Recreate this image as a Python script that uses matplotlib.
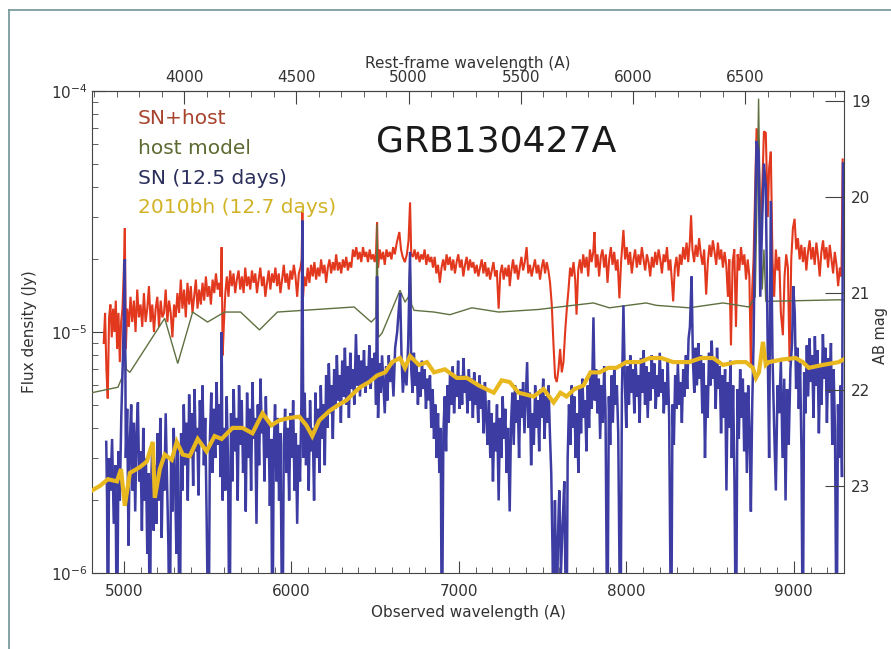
import numpy as np
import matplotlib
matplotlib.use("Agg")
import matplotlib.pyplot as plt
import matplotlib.ticker as ticker
from matplotlib.lines import Line2D

plt.rcParams['font.family'] = ['DejaVu Sans']

# redshift of GRB130427A, used for the rest-frame axis
z = 0.34

# spectra: (observed wavelength in A, flux density in micro-Jy)
sn_host = [
    (4880, 9.0), (4888, 12.0), (4896, 7.0), (4904, 5.3), (4912, 11.5), (4920, 13.0), (4928, 9.5), (4936, 12.5),
    (4944, 10.0), (4952, 13.5), (4960, 8.5), (4968, 12.0), (4976, 7.5), (4984, 11.0), (4992, 12.5), (5000, 18.0),
    (5006, 27.0), (5012, 8.5), (5020, 12.5), (5030, 10.5), (5040, 14.0), (5050, 11.0), (5060, 13.5), (5070, 10.0),
    (5080, 15.0), (5090, 11.5), (5100, 13.0), (5110, 10.5), (5120, 14.5), (5130, 11.0), (5140, 12.5), (5150, 15.5),
    (5160, 11.0), (5170, 13.0), (5180, 10.0), (5190, 12.5), (5200, 14.0), (5210, 10.5), (5220, 13.5), (5230, 11.5),
    (5240, 12.0), (5250, 15.0), (5260, 11.0), (5270, 13.5), (5280, 12.0), (5290, 9.5), (5300, 13.0), (5310, 11.5),
    (5320, 14.5), (5330, 12.0), (5340, 16.5), (5350, 12.5), (5360, 15.0), (5370, 11.5), (5380, 16.0), (5390, 13.0),
    (5400, 15.5), (5410, 12.0), (5420, 14.0), (5430, 16.5), (5440, 12.5), (5450, 15.0), (5460, 13.0), (5470, 16.0),
    (5480, 13.5), (5490, 17.0), (5500, 14.0), (5510, 15.5), (5520, 13.0), (5530, 16.5), (5540, 14.5), (5550, 17.5),
    (5560, 15.0), (5570, 16.0), (5578, 14.0), (5584, 22.5), (5590, 8.0), (5598, 11.0), (5606, 14.5), (5615, 17.0),
    (5625, 14.0), (5635, 18.0), (5645, 15.5), (5655, 17.5), (5665, 14.5), (5675, 16.5), (5685, 18.0), (5695, 15.0),
    (5705, 17.0), (5715, 14.5), (5725, 18.5), (5735, 15.5), (5745, 17.0), (5755, 15.0), (5765, 18.0), (5775, 16.0),
    (5785, 17.5), (5795, 14.5), (5805, 16.5), (5815, 18.5), (5825, 15.5), (5835, 17.0), (5845, 14.0), (5855, 16.0),
    (5865, 18.0), (5875, 15.0), (5885, 17.5), (5895, 16.0), (5905, 18.5), (5915, 15.5), (5925, 17.5), (5935, 14.5),
    (5945, 16.5), (5955, 19.0), (5965, 16.0), (5975, 17.5), (5985, 15.0), (5995, 18.0), (6005, 16.5), (6015, 19.0),
    (6025, 17.0), (6035, 14.0), (6045, 17.5), (6055, 18.5), (6062, 20.0), (6066, 31.5), (6070, 14.0), (6078, 17.0),
    (6088, 15.5), (6098, 18.5), (6108, 16.0), (6118, 19.0), (6128, 17.0), (6138, 19.5), (6148, 16.5), (6158, 18.5),
    (6168, 17.0), (6178, 20.0), (6188, 17.5), (6198, 19.0), (6208, 16.0), (6218, 18.5), (6228, 20.0), (6238, 17.5),
    (6248, 19.5), (6258, 18.0), (6268, 21.0), (6278, 18.0), (6288, 19.5), (6298, 17.5), (6308, 20.0), (6318, 18.5),
    (6328, 20.5), (6338, 18.0), (6348, 19.5), (6358, 18.5), (6368, 22.0), (6378, 20.5), (6388, 22.5), (6398, 20.0),
    (6408, 21.5), (6418, 19.5), (6428, 22.5), (6438, 20.5), (6448, 21.5), (6458, 19.5), (6468, 22.0), (6478, 20.0),
    (6488, 21.0), (6498, 19.5), (6506, 21.5), (6512, 28.5), (6518, 18.5), (6528, 22.0), (6538, 20.0), (6548, 21.5),
    (6558, 19.0), (6568, 22.0), (6578, 20.5), (6588, 21.5), (6598, 20.0), (6608, 22.5), (6618, 21.0), (6630, 23.5),
    (6645, 26.0), (6655, 22.0), (6665, 20.5), (6678, 19.5), (6690, 21.0), (6700, 24.0), (6709, 34.5), (6716, 21.0),
    (6726, 20.5), (6736, 22.0), (6746, 20.0), (6756, 21.5), (6766, 19.5), (6776, 21.0), (6786, 20.0), (6796, 22.0),
    (6806, 19.0), (6816, 21.0), (6826, 19.5), (6836, 20.5), (6846, 18.5), (6856, 20.5), (6866, 17.5), (6876, 19.0),
    (6887, 16.0), (6897, 18.5), (6907, 20.0), (6917, 18.0), (6927, 21.0), (6937, 19.0), (6947, 20.5), (6957, 18.0),
    (6967, 20.0), (6977, 17.5), (6987, 19.5), (6997, 21.0), (7007, 18.5), (7017, 20.0), (7027, 17.0), (7037, 19.0),
    (7047, 20.5), (7057, 18.0), (7067, 20.0), (7077, 18.5), (7087, 19.5), (7097, 17.5), (7107, 19.0), (7117, 17.0),
    (7127, 18.5), (7137, 20.0), (7147, 17.5), (7157, 19.5), (7167, 17.0), (7177, 18.5), (7187, 16.5), (7197, 18.0),
    (7207, 19.5), (7217, 17.0), (7227, 18.0), (7238, 12.5), (7248, 17.5), (7258, 19.0), (7268, 16.5), (7278, 18.5),
    (7288, 17.0), (7298, 19.0), (7304, 15.5), (7314, 18.0), (7324, 20.0), (7334, 17.5), (7344, 19.0), (7354, 16.5),
    (7364, 18.5), (7374, 20.5), (7384, 18.0), (7394, 19.5), (7405, 22.5), (7415, 17.5), (7425, 19.0), (7435, 17.0),
    (7445, 18.5), (7455, 20.0), (7465, 17.5), (7475, 19.0), (7485, 16.5), (7495, 18.5), (7505, 20.0), (7515, 17.5),
    (7525, 19.5), (7535, 18.0), (7545, 16.0), (7555, 13.0), (7565, 9.0), (7575, 6.5), (7585, 6.2), (7595, 7.0),
    (7605, 8.5), (7615, 6.8), (7625, 7.5), (7635, 10.0), (7645, 12.5), (7655, 15.0), (7665, 18.5), (7675, 17.0),
    (7685, 19.5), (7695, 16.5), (7703, 11.8), (7713, 18.0), (7723, 20.0), (7733, 17.5), (7743, 21.0), (7753, 18.5),
    (7763, 20.5), (7773, 17.0), (7783, 22.0), (7793, 19.5), (7803, 21.5), (7810, 26.0), (7818, 18.5), (7828, 21.0),
    (7838, 17.0), (7848, 20.5), (7858, 22.0), (7868, 18.5), (7878, 21.0), (7888, 16.0), (7898, 20.0), (7908, 22.5),
    (7918, 19.0), (7928, 21.5), (7938, 18.0), (7948, 20.0), (7959, 13.8), (7969, 19.5), (7983, 26.5), (7993, 20.0),
    (8003, 22.5), (8013, 19.0), (8023, 21.5), (8033, 17.5), (8043, 20.0), (8053, 22.0), (8063, 18.5), (8073, 21.0),
    (8083, 19.0), (8093, 22.5), (8103, 20.0), (8113, 18.0), (8123, 21.0), (8133, 19.5), (8143, 17.0), (8153, 20.5),
    (8163, 18.5), (8173, 21.5), (8183, 19.0), (8193, 22.0), (8203, 20.0), (8213, 17.5), (8223, 21.0), (8233, 19.5),
    (8243, 22.5), (8253, 18.0), (8263, 20.0), (8273, 16.0), (8280, 13.4), (8290, 18.5), (8300, 20.5), (8310, 17.0),
    (8320, 21.0), (8330, 19.0), (8340, 22.5), (8350, 20.0), (8360, 23.5), (8370, 19.5), (8380, 24.0), (8387, 30.5),
    (8395, 22.0), (8405, 19.5), (8415, 23.0), (8425, 20.5), (8435, 24.5), (8445, 21.0), (8455, 19.0), (8465, 22.0),
    (8477, 14.3), (8487, 19.5), (8497, 23.0), (8507, 20.5), (8517, 24.0), (8527, 21.5), (8537, 19.0), (8547, 23.5),
    (8557, 20.0), (8567, 22.0), (8577, 18.5), (8587, 21.5), (8597, 19.0), (8607, 14.0), (8615, 20.0), (8625, 8.8),
    (8635, 19.5), (8645, 22.0), (8655, 10.5), (8665, 21.0), (8675, 18.0), (8685, 22.5), (8695, 19.0), (8705, 21.0),
    (8715, 16.5), (8725, 20.0), (8735, 17.0), (8744, 7.1), (8752, 15.0), (8760, 20.0), (8768, 35.0), (8778, 70.0),
    (8790, 62.0), (8800, 25.0), (8812, 40.0), (8822, 68.0), (8833, 67.0), (8845, 30.0), (8853, 48.0), (8863, 56.0),
    (8873, 20.0), (8883, 14.0), (8893, 22.0), (8903, 18.0), (8913, 20.5), (8923, 12.0), (8935, 9.7), (8945, 17.0),
    (8955, 21.0), (8965, 18.5), (8975, 7.5), (8985, 20.0), (8995, 27.0), (9005, 29.5), (9015, 22.0), (9025, 24.5),
    (9035, 20.0), (9045, 23.0), (9055, 19.5), (9065, 22.5), (9075, 18.0), (9085, 21.5), (9095, 24.0), (9105, 20.0),
    (9115, 22.5), (9125, 19.0), (9135, 23.5), (9145, 20.5), (9155, 17.0), (9165, 21.5), (9175, 24.0), (9185, 20.0),
    (9195, 22.5), (9205, 18.5), (9215, 23.0), (9225, 20.0), (9235, 17.5), (9245, 21.5), (9255, 19.0), (9265, 15.5),
    (9275, 18.5), (9285, 17.0), (9292, 52.0),
]

host_model = [
    (4810, 5.6), (4965, 5.9), (4990, 6.5), (5003, 9.5), (5015, 7.0), (5036, 6.8), (5244, 11.4), (5322, 7.4),
    (5411, 12.1), (5500, 11.0), (5602, 12.1), (5697, 12.1), (5810, 10.2), (5917, 12.1), (6375, 12.7), (6477, 11.0),
    (6505, 11.5), (6512, 28.0), (6520, 9.5), (6542, 9.9), (6649, 14.9), (6679, 13.3), (6700, 14.0), (6709, 20.0),
    (6718, 13.0), (6733, 12.3), (6852, 12.1), (6947, 11.8), (7078, 12.6), (7238, 12.1), (7476, 12.4), (7640, 12.8),
    (7804, 13.2), (7899, 12.6), (8119, 13.2), (8179, 12.9), (8375, 12.6), (8578, 13.2), (8732, 12.7), (8770, 14.0),
    (8782, 40.0), (8790, 93.0), (8800, 30.0), (8812, 15.0), (8822, 22.0), (8833, 13.4), (9268, 13.6), (9300, 13.6),
]

sn = [
    (4895, 3.5), (4900, 2.0), (4905, 0.4), (4912, 3.0), (4920, 2.2), (4930, 3.6), (4940, 1.6), (4950, 2.8),
    (4959, 0.4), (4968, 3.2), (4976, 2.0), (4985, 4.5), (4995, 8.0), (5006, 20.0), (5012, 3.0), (5020, 4.8),
    (5028, 1.3), (5036, 3.5), (5044, 5.0), (5052, 2.2), (5060, 4.2), (5068, 1.8), (5076, 3.8), (5084, 5.1),
    (5092, 2.4), (5100, 3.2), (5108, 1.5), (5116, 4.0), (5124, 2.0), (5132, 3.0), (5140, 1.2), (5148, 2.6),
    (5155, 0.4), (5162, 2.2), (5170, 3.4), (5178, 1.5), (5186, 2.8), (5194, 1.6), (5202, 3.8), (5210, 2.0),
    (5218, 4.4), (5226, 1.4), (5234, 3.0), (5242, 2.2), (5250, 4.6), (5258, 2.5), (5266, 1.3), (5274, 0.4),
    (5282, 3.0), (5290, 1.8), (5298, 4.0), (5306, 2.4), (5314, 1.2), (5322, 3.3), (5334, 0.4), (5342, 3.8),
    (5350, 2.2), (5358, 5.0), (5366, 2.8), (5374, 4.2), (5382, 2.0), (5390, 5.5), (5398, 3.0), (5406, 4.6),
    (5414, 2.3), (5422, 5.8), (5430, 3.2), (5438, 4.0), (5446, 2.1), (5454, 5.2), (5462, 3.5), (5470, 6.0),
    (5478, 2.8), (5486, 4.4), (5494, 1.8), (5506, 0.4), (5514, 3.6), (5522, 5.6), (5530, 2.6), (5538, 4.8),
    (5546, 3.0), (5554, 6.2), (5562, 3.4), (5570, 5.0), (5578, 2.5), (5584, 10.0), (5590, 2.0), (5598, 4.0),
    (5606, 2.2), (5614, 5.4), (5622, 3.0), (5631, 0.4), (5640, 4.6), (5648, 2.4), (5656, 5.8), (5664, 3.2),
    (5672, 4.4), (5680, 2.0), (5688, 6.0), (5696, 3.4), (5704, 5.2), (5712, 2.6), (5720, 4.0), (5728, 1.8),
    (5736, 5.6), (5744, 3.0), (5752, 4.8), (5760, 2.2), (5768, 6.2), (5776, 3.6), (5784, 4.4), (5792, 1.6),
    (5800, 5.0), (5808, 2.8), (5816, 6.4), (5824, 3.8), (5832, 4.6), (5840, 2.4), (5848, 5.4), (5856, 3.0),
    (5864, 4.2), (5872, 1.9), (5880, 3.6), (5887, 0.4), (5895, 3.2), (5903, 5.0), (5911, 2.4), (5919, 4.4),
    (5927, 2.0), (5935, 3.8), (5947, 0.4), (5955, 3.4), (5963, 4.8), (5971, 2.6), (5979, 4.0), (5987, 2.0),
    (5995, 4.6), (6003, 3.0), (6011, 5.2), (6019, 2.2), (6027, 3.8), (6035, 1.6), (6043, 3.4), (6052, 2.4),
    (6060, 5.0), (6066, 29.0), (6072, 3.0), (6080, 5.6), (6088, 2.8), (6096, 4.4), (6104, 2.2), (6112, 5.2),
    (6120, 3.2), (6128, 4.0), (6136, 2.0), (6144, 5.6), (6152, 3.0), (6160, 4.8), (6168, 2.6), (6176, 6.0),
    (6184, 3.6), (6192, 5.0), (6200, 2.8), (6208, 6.6), (6216, 4.0), (6224, 7.4), (6232, 4.6), (6240, 6.0),
    (6248, 3.6), (6256, 7.0), (6264, 4.8), (6272, 8.0), (6280, 5.2), (6288, 6.6), (6296, 4.2), (6304, 7.6),
    (6312, 5.4), (6320, 8.6), (6328, 5.0), (6336, 7.2), (6344, 4.4), (6352, 8.2), (6360, 5.8), (6368, 7.0),
    (6376, 5.0), (6386, 9.8), (6394, 6.0), (6402, 8.0), (6410, 5.4), (6418, 7.6), (6426, 6.0), (6434, 8.4),
    (6442, 5.6), (6450, 7.2), (6458, 6.2), (6466, 8.8), (6474, 5.8), (6482, 7.8), (6490, 6.4), (6498, 8.2),
    (6506, 5.0), (6512, 17.0), (6518, 4.4), (6526, 7.4), (6534, 5.6), (6542, 8.0), (6550, 6.0), (6558, 4.6),
    (6566, 7.2), (6574, 5.2), (6582, 8.0), (6590, 6.2), (6600, 7.4), (6610, 5.4), (6620, 8.6), (6632, 10.0),
    (6642, 12.5), (6650, 14.5), (6658, 8.0), (6666, 5.6), (6676, 7.0), (6688, 6.0), (6698, 9.0), (6709, 21.5),
    (6716, 7.0), (6724, 5.6), (6732, 8.2), (6740, 6.0), (6748, 7.4), (6756, 5.0), (6764, 6.8), (6772, 5.4),
    (6780, 7.6), (6788, 5.8), (6796, 7.0), (6804, 4.8), (6812, 6.4), (6820, 5.2), (6828, 6.6), (6836, 4.0),
    (6844, 5.8), (6852, 3.6), (6860, 5.0), (6868, 3.0), (6876, 4.6), (6884, 2.6), (6892, 4.0), (6899, 0.4),
    (6908, 3.8), (6916, 5.4), (6924, 3.2), (6932, 6.0), (6940, 4.2), (6948, 6.8), (6956, 5.0), (6964, 7.2),
    (6972, 4.6), (6980, 6.4), (6988, 5.4), (6996, 7.6), (7004, 4.8), (7012, 6.6), (7020, 5.0), (7028, 7.8),
    (7036, 5.6), (7044, 6.4), (7052, 4.6), (7060, 7.0), (7068, 5.2), (7076, 6.4), (7084, 4.4), (7092, 6.8),
    (7100, 5.0), (7108, 6.0), (7116, 4.2), (7124, 6.6), (7132, 4.8), (7140, 5.8), (7148, 3.8), (7156, 6.2),
    (7164, 4.4), (7172, 3.4), (7180, 5.2), (7188, 3.0), (7196, 4.6), (7204, 2.4), (7212, 4.2), (7220, 3.2),
    (7228, 5.0), (7238, 2.0), (7246, 4.4), (7254, 3.0), (7262, 5.4), (7270, 3.6), (7278, 4.8), (7286, 2.6),
    (7294, 4.0), (7304, 1.8), (7312, 4.2), (7320, 5.6), (7328, 3.4), (7336, 6.0), (7344, 4.2), (7352, 5.2),
    (7360, 3.0), (7368, 5.8), (7376, 4.4), (7384, 6.2), (7392, 3.8), (7400, 5.4), (7408, 7.5), (7416, 4.0),
    (7424, 5.6), (7432, 2.8), (7440, 4.6), (7448, 3.4), (7456, 6.0), (7464, 4.0), (7472, 5.2), (7480, 3.2),
    (7488, 5.8), (7496, 4.4), (7504, 6.4), (7512, 3.6), (7520, 5.4), (7528, 4.2), (7536, 6.0), (7544, 3.8),
    (7552, 2.6), (7560, 1.2), (7566, 0.4), (7574, 2.0), (7580, 1.0), (7584, 0.4), (7592, 1.4), (7600, 2.2),
    (7610, 1.0), (7620, 1.6), (7630, 2.4), (7636, 1.1), (7643, 0.4), (7650, 3.0), (7658, 5.0), (7666, 3.4),
    (7674, 6.0), (7682, 4.0), (7690, 5.4), (7698, 3.0), (7706, 4.6), (7714, 2.6), (7722, 5.8), (7730, 3.8),
    (7738, 6.4), (7746, 4.4), (7754, 5.2), (7762, 3.2), (7770, 6.0), (7778, 4.0), (7786, 6.8), (7794, 4.8),
    (7804, 11.5), (7812, 5.2), (7820, 7.0), (7828, 4.6), (7836, 6.4), (7844, 3.6), (7852, 6.0), (7860, 4.2),
    (7868, 7.2), (7876, 4.8), (7887, 0.4), (7896, 5.4), (7904, 3.4), (7912, 6.6), (7920, 4.2), (7928, 7.0),
    (7936, 5.0), (7944, 6.0), (7952, 3.8), (7965, 0.4), (7974, 5.6), (7983, 12.9), (7992, 6.0), (8000, 4.0),
    (8008, 7.2), (8016, 5.0), (8024, 8.0), (8032, 5.6), (8040, 7.0), (8048, 4.6), (8056, 7.6), (8064, 5.4),
    (8072, 6.6), (8080, 4.2), (8088, 7.8), (8096, 5.6), (8104, 8.4), (8112, 5.0), (8120, 7.2), (8128, 4.4),
    (8136, 6.8), (8144, 5.2), (8152, 8.0), (8160, 5.8), (8168, 7.4), (8176, 4.8), (8184, 6.6), (8192, 5.4),
    (8200, 8.2), (8208, 5.6), (8216, 7.0), (8224, 4.6), (8232, 6.2), (8240, 5.0), (8248, 7.6), (8256, 4.4),
    (8268, 0.4), (8276, 5.0), (8284, 3.4), (8292, 6.6), (8300, 4.8), (8308, 7.4), (8316, 5.0), (8324, 6.2),
    (8332, 4.2), (8340, 7.0), (8348, 5.4), (8356, 8.0), (8364, 5.8), (8372, 9.4), (8380, 10.5), (8390, 17.0),
    (8398, 7.6), (8406, 5.6), (8414, 8.6), (8422, 6.0), (8430, 9.0), (8438, 6.4), (8446, 8.0), (8454, 4.6),
    (8462, 7.4), (8470, 3.0), (8478, 6.0), (8486, 4.4), (8494, 8.2), (8502, 6.0), (8510, 9.2), (8518, 6.4),
    (8526, 7.8), (8534, 4.8), (8542, 8.6), (8550, 5.8), (8558, 7.2), (8566, 3.8), (8574, 6.6), (8582, 4.4),
    (8590, 7.0), (8598, 2.2), (8606, 6.2), (8614, 4.0), (8622, 7.6), (8630, 3.0), (8638, 6.0), (8646, 2.4),
    (8655, 0.4), (8664, 5.8), (8672, 3.6), (8680, 7.0), (8688, 4.4), (8696, 6.4), (8704, 3.2), (8712, 5.6),
    (8720, 2.6), (8728, 6.0), (8736, 3.8), (8744, 1.8), (8752, 5.0), (8760, 9.0), (8768, 25.0), (8778, 62.0),
    (8790, 56.0), (8800, 14.0), (8812, 30.0), (8822, 50.0), (8833, 40.0), (8845, 8.0), (8853, 3.0), (8863, 35.0),
    (8873, 8.0), (8883, 4.0), (8893, 2.2), (8903, 6.0), (8913, 4.6), (8923, 7.6), (8933, 3.0), (8943, 6.4),
    (8951, 2.0), (8960, 5.8), (8970, 3.4), (8980, 7.0), (8990, 9.0), (8997, 15.5), (9006, 12.0), (9014, 5.8),
    (9022, 8.6), (9030, 4.8), (9038, 7.4), (9046, 3.2), (9054, 0.4), (9062, 6.8), (9070, 4.6), (9078, 8.8),
    (9086, 5.4), (9094, 9.4), (9102, 6.2), (9110, 8.0), (9118, 4.4), (9126, 9.6), (9134, 6.0), (9142, 8.4),
    (9150, 3.8), (9158, 7.2), (9166, 5.0), (9174, 9.8), (9182, 6.4), (9190, 8.6), (9198, 4.2), (9206, 7.8),
    (9214, 5.6), (9222, 9.0), (9230, 3.4), (9238, 7.0), (9246, 4.0), (9256, 0.4), (9264, 5.0), (9272, 3.0),
    (9280, 6.0), (9288, 2.5), (9294, 50.0),
]

sn2010bh = [
    (4810, 2.2), (4858, 2.3), (4905, 2.45), (4959, 2.4), (4983, 2.7), (5006, 1.9), (5036, 2.6), (5096, 2.75),
    (5137, 2.9), (5173, 3.5), (5185, 2.05), (5215, 2.7), (5244, 3.1), (5286, 2.95), (5316, 3.5), (5352, 3.1),
    (5393, 3.05), (5441, 3.6), (5494, 3.2), (5542, 3.7), (5584, 3.6), (5649, 4.0), (5709, 4.0), (5768, 3.8),
    (5828, 4.6), (5881, 4.1), (5929, 4.3), (5988, 4.4), (6048, 4.45), (6090, 4.1), (6125, 3.7), (6167, 4.3),
    (6227, 4.7), (6274, 4.95), (6328, 5.2), (6375, 5.6), (6411, 5.9), (6465, 6.2), (6512, 6.6), (6560, 6.8),
    (6602, 7.5), (6649, 7.8), (6679, 7.1), (6709, 7.95), (6762, 7.3), (6810, 7.5), (6852, 6.8), (6917, 7.0),
    (6988, 6.45), (7048, 6.45), (7119, 6.0), (7209, 5.6), (7256, 6.3), (7304, 6.2), (7357, 5.6), (7447, 5.4),
    (7506, 5.8), (7566, 5.1), (7607, 5.6), (7643, 5.4), (7691, 5.8), (7744, 6.0), (7786, 6.8), (7840, 6.8),
    (7893, 7.1), (7941, 7.1), (8000, 7.5), (8078, 7.5), (8143, 7.8), (8209, 7.8), (8280, 7.5), (8375, 7.5),
    (8447, 7.8), (8518, 7.8), (8578, 7.3), (8655, 7.5), (8714, 7.5), (8756, 7.1), (8774, 6.45), (8792, 6.8),
    (8816, 9.1), (8833, 7.3), (8851, 7.5), (8935, 7.7), (9012, 7.8), (9054, 7.5), (9090, 7.1), (9173, 7.3),
    (9268, 7.5), (9298, 7.7),
]

labels = ["SN+host", "host model", "SN (12.5 days)", "2010bh (12.7 days)"]
line_colors = ["#e2381e", "#5f7040", "#3c3ca2", "#e9b81e"]
text_colors = ["#a8432e", "#5d6b33", "#2b2f5c", "#d2b328"]
mag_ticks = [19, 20, 21, 22, 23]

W, H = 891, 649
fig = plt.figure(figsize=(W / 100, H / 100), dpi=100)
ax = fig.add_axes([92 / W, 1 - 573 / H, (844 - 92) / W, (573 - 91) / H])

series = [sn_host, host_model, sn, sn2010bh]
widths = [1.5, 1.0, 1.8, 3.0]
for i, s in enumerate(series):
    wave, flux = np.array(s).T
    ax.plot(wave, flux * 1e-6, color=line_colors[i], lw=widths[i], zorder=2 + i,
            solid_joinstyle='miter')

ax.set_yscale('log')
ax.set_xlim(4810, 9300)
ax.set_ylim(1e-6, 1e-4)

axis_col = '#444444'
for sp in ax.spines.values():
    sp.set_color(axis_col)
    sp.set_linewidth(0.8)

ax.xaxis.set_major_locator(ticker.MultipleLocator(1000))
ax.xaxis.set_minor_locator(ticker.MultipleLocator(100))
ax.yaxis.set_minor_formatter(ticker.NullFormatter())
ax.tick_params(which='both', direction='in', colors=axis_col, labelcolor='#333333',
               labelsize=11, top=False, right=False)
ax.tick_params(which='major', length=9, width=0.8)
ax.tick_params(which='minor', length=4, width=0.6)
ax.tick_params(axis='x', pad=8)
ax.set_xlabel("Observed wavelength (A)", fontsize=11, color='#333333', labelpad=4)
ax.set_ylabel("Flux density (Jy)", fontsize=11, color='#333333', labelpad=10)

# rest-frame axis on top
top = ax.secondary_xaxis('top', functions=(lambda x: x / (1 + z), lambda x: x * (1 + z)))
top.xaxis.set_major_locator(ticker.MultipleLocator(500))
top.xaxis.set_minor_locator(ticker.MultipleLocator(100))
top.tick_params(which='both', direction='in', colors=axis_col, labelcolor='#333333', labelsize=11)
top.tick_params(which='major', length=9, width=0.8, pad=4)
top.tick_params(which='minor', length=4, width=0.6)
top.spines['top'].set_color(axis_col)
top.set_xlabel("Rest-frame wavelength (A)", fontsize=11, color='#333333', labelpad=2)

# AB magnitude axis on the right
ax2 = ax.twinx()
ax2.set_yscale('log')
ax2.set_ylim(ax.get_ylim())
ax2.set_yticks([3631 * 10 ** (-0.4 * m) for m in mag_ticks])
ax2.set_yticklabels([str(m) for m in mag_ticks])
ax2.yaxis.set_minor_locator(ticker.NullLocator())
ax2.tick_params(direction='in', length=14, width=0.8, colors=axis_col, labelcolor='#333333',
                labelsize=11, pad=5)
for sp in ax2.spines.values():
    sp.set_visible(False)
fig.text(881 / W, 1 - 335 / H, "AB mag", rotation=90, fontsize=10.5, color='#333333',
         ha='center', va='center')

# legend as coloured text
for i, lab in enumerate(labels):
    fig.text(138 / W, 1 - (119 + 29.6 * i) / H, lab, color=text_colors[i], fontsize=14.5,
             va='center', ha='left')

fig.text(496 / W, 1 - 142 / H, "GRB130427A", fontsize=26, color='#1a1a1a',
         ha='center', va='center')

# scan frame
frame_col = '#6f9496'
fig.add_artist(Line2D([9 / W, 9 / W], [0, 1 - 10 / H], color=frame_col, lw=1.2))
fig.add_artist(Line2D([9 / W, 1], [1 - 10 / H, 1 - 10 / H], color=frame_col, lw=1.2))

fig.savefig("out.png", dpi=100)
